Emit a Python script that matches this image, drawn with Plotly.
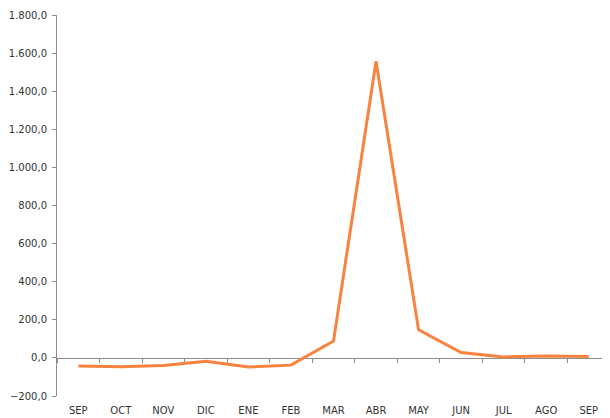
import plotly.graph_objects as go

months = ["SEP", "OCT", "NOV", "DIC", "ENE", "FEB", "MAR", "ABR", "MAY", "JUN", "JUL", "AGO", "SEP"]
values = [-43, -46, -40, -17, -48, -38, 88, 1557, 147, 28, 5, 10, 7]
y_ticks = [-200, 0, 200, 400, 600, 800, 1000, 1200, 1400, 1600, 1800]

x_idx = list(range(len(months)))
boundaries = [i - 0.5 for i in range(len(months) + 1)]
xr = [-0.5, len(months) - 0.5]

FONT = dict(family="DejaVu Sans", size=10, color="#333333")
AXIS = "#8c8c8c"

fig = go.Figure()
fig.add_trace(go.Scatter(
    x=x_idx, y=values, mode="lines",
    line=dict(color="#F9823F", width=3),
    hoverinfo="skip", showlegend=False,
))
# invisible trace to drive the zero-level axis with boundary ticks
fig.add_trace(go.Scatter(
    x=x_idx, y=values, xaxis="x2", mode="lines",
    line=dict(color="rgba(0,0,0,0)", width=0),
    hoverinfo="skip", showlegend=False,
))

# page body has an 8px default margin, so the figure is sized to fit the window
fig.update_layout(
    width=602, height=410,
    margin=dict(l=49, r=0, t=7, b=22),
    paper_bgcolor="white", plot_bgcolor="white",
    separators=",.",
    font=FONT,
    xaxis=dict(
        range=xr, tickmode="array", tickvals=x_idx, ticktext=months,
        showline=False, showgrid=False, zeroline=False, ticks="",
        tickfont=FONT, automargin=False, ticklabelstandoff=7,
    ),
    xaxis2=dict(
        range=xr, overlaying="x", anchor="free", position=0.1,
        side="bottom",
        tickmode="array", tickvals=boundaries,
        showticklabels=False, showline=True, linecolor=AXIS, linewidth=1,
        ticks="outside", ticklen=4, tickcolor=AXIS, tickwidth=1,
        showgrid=False, zeroline=False, layer="below traces", automargin=False,
    ),
    yaxis=dict(
        range=[-200, 1800], tickmode="array", tickvals=y_ticks,
        tickformat=",.1f",
        showline=True, linecolor=AXIS, linewidth=1,
        ticks="outside", ticklen=4, tickcolor=AXIS,
        showgrid=False, zeroline=False,
        tickfont=FONT, ticklabelstandoff=3, automargin=False,
    ),
)

fig.write_html("out.html")
